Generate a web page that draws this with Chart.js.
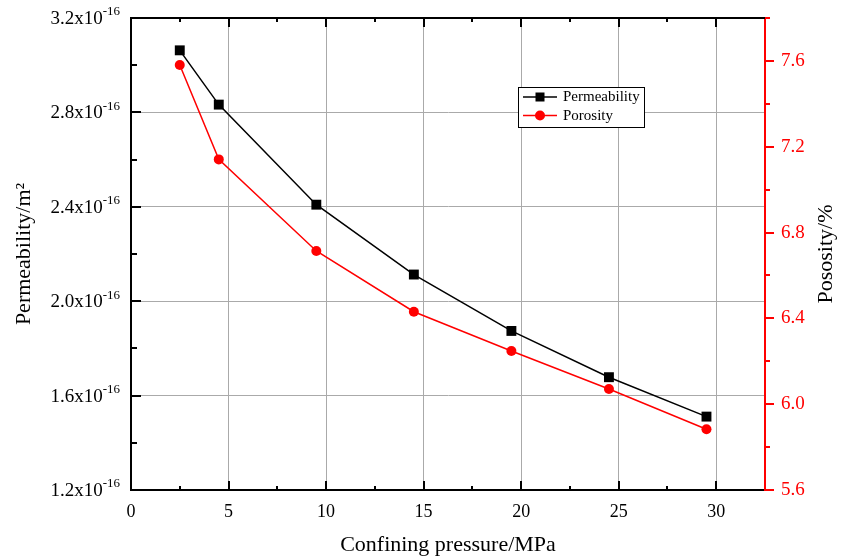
<!DOCTYPE html>
<html><head><meta charset="utf-8">
<script src="https://cdn.jsdelivr.net/npm/chart.js@4/dist/chart.umd.min.js"></script>
<style>html,body{margin:0;padding:0;background:#fff}#wrap{width:847px;height:558px}</style>
</head><body><div id="wrap"><canvas id="c" width="847" height="558"></canvas></div>
<script>
// ---- data ----
const pressure = [2.5, 4.5, 9.5, 14.5, 19.5, 24.5, 29.5];           // MPa
const permeability = [3.063, 2.833, 2.409, 2.113, 1.874, 1.678, 1.511]; // x 1e-16 m^2
const porosity = [7.581, 7.141, 6.714, 6.431, 6.248, 6.071, 5.883];   // %
const seriesNames = ['Permeability', 'Porosity'];
const permExponent = '-16';
const xTitle = 'Confining pressure/MPa';
const yLeftTitle = 'Permeability/m\u00B2';
const yRightTitle = 'Pososity/%';

const FONT = "'Liberation Serif','Times New Roman',serif";
const RED = '#ff0000';

function isMult(v, m) { return Math.abs(Math.round(v / m) * m - v) < 1e-6; }
function noPad(s) { s.paddingTop = 0; s.paddingBottom = 0; s.paddingLeft = 0; s.paddingRight = 0; }

const decor = {
  id: 'decor',
  afterDraw(chart) {
    const ctx = chart.ctx, a = chart.chartArea;
    const xs = chart.scales.x, yl = chart.scales.yL, yr = chart.scales.yR;
    ctx.save();
    // top border
    ctx.strokeStyle = '#000'; ctx.lineWidth = 2;
    ctx.beginPath(); ctx.moveTo(a.left - 1, a.top); ctx.lineTo(a.right, a.top); ctx.stroke();
    // x ticks (bottom & top, inward)
    ctx.lineWidth = 2;
    xs.ticks.forEach(t => {
      const v = t.value; if (v <= 0 || v > 31) return;
      const p = Math.round(xs.getPixelForValue(v));
      const len = isMult(v, 5) ? 9 : 4;
      ctx.beginPath(); ctx.moveTo(p, a.bottom); ctx.lineTo(p, a.bottom - len); ctx.stroke();
      ctx.beginPath(); ctx.moveTo(p, a.top); ctx.lineTo(p, a.top + len); ctx.stroke();
    });
    // left ticks inward
    yl.ticks.forEach(t => {
      const v = t.value;
      const p = Math.round(yl.getPixelForValue(v));
      const len = isMult(v, 0.4) ? 10 : 6;
      ctx.beginPath(); ctx.moveTo(a.left, p); ctx.lineTo(a.left + len, p); ctx.stroke();
    });
    // right ticks outward (red)
    ctx.strokeStyle = RED;
    yr.ticks.forEach(t => {
      const v = t.value;
      const p = Math.round(yr.getPixelForValue(v));
      const len = isMult(v, 0.4) ? 9 : 5;
      ctx.beginPath(); ctx.moveTo(a.right, p); ctx.lineTo(a.right + len, p); ctx.stroke();
    });
    // left tick labels with superscript
    ctx.fillStyle = '#000';
    yl.ticks.forEach(t => {
      const v = t.value; if (!isMult(v, 0.4)) return;
      const p = yl.getPixelForValue(v);
      const right = 120;
      ctx.font = '13px ' + FONT;
      const sw = ctx.measureText(permExponent).width;
      ctx.textAlign = 'left'; ctx.textBaseline = 'middle';
      ctx.fillText(permExponent, right - sw, p - 6);
      ctx.font = '19px ' + FONT;
      const main = v.toFixed(1) + 'x10';
      const mw = ctx.measureText(main).width;
      ctx.fillText(main, right - sw - mw, p + 1);
    });
    // titles
    ctx.fillStyle = '#000';
    ctx.font = '22px ' + FONT;
    ctx.textAlign = 'center'; ctx.textBaseline = 'middle';
    ctx.fillText(xTitle, (a.left + a.right) / 2, 545);
    ctx.save(); ctx.translate(24, (a.top + a.bottom) / 2); ctx.rotate(-Math.PI / 2);
    ctx.fillText(yLeftTitle, 0, 0); ctx.restore();
    ctx.save(); ctx.translate(826, (a.top + a.bottom) / 2); ctx.rotate(-Math.PI / 2);
    ctx.fillText(yRightTitle, 0, 0); ctx.restore();
    // legend
    const lx = 518, ly = 87, lw = 126, lh = 40;
    ctx.fillStyle = '#fff'; ctx.fillRect(lx, ly, lw, lh);
    ctx.strokeStyle = '#000'; ctx.lineWidth = 1;
    ctx.strokeRect(lx + 0.5, ly + 0.5, lw, lh);
    chart.data.datasets.forEach((ds, i) => {
      const cy = ly + 10 + i * 18.5;
      ctx.strokeStyle = ds.borderColor; ctx.lineWidth = 1.5;
      ctx.beginPath(); ctx.moveTo(lx + 5, cy); ctx.lineTo(lx + 39, cy); ctx.stroke();
      ctx.fillStyle = ds.pointBackgroundColor;
      if (ds.pointStyle === 'rect') { ctx.fillRect(lx + 22 - 4.5, cy - 4.5, 9, 9); }
      else { ctx.beginPath(); ctx.arc(lx + 22, cy, 5, 0, Math.PI * 2); ctx.fill(); }
      ctx.fillStyle = '#000'; ctx.font = '15px ' + FONT;
      ctx.textAlign = 'left'; ctx.textBaseline = 'middle';
      ctx.fillText(ds.label, lx + 45, cy + 0.5);
    });
    ctx.restore();
  }
};

new Chart(document.getElementById('c'), {
  type: 'line',
  data: {
    datasets: [
      {
        label: seriesNames[0], yAxisID: 'yL',
        data: pressure.map((x, i) => ({ x, y: permeability[i] })),
        borderColor: '#000', backgroundColor: '#000', borderWidth: 1.5,
        pointStyle: 'rect', pointRadius: 7, pointBackgroundColor: '#000', pointBorderColor: '#000', pointBorderWidth: 0
      },
      {
        label: seriesNames[1], yAxisID: 'yR',
        data: pressure.map((x, i) => ({ x, y: porosity[i] })),
        borderColor: RED, backgroundColor: RED, borderWidth: 1.5,
        pointStyle: 'circle', pointRadius: 5, pointBackgroundColor: RED, pointBorderColor: RED, pointBorderWidth: 0
      }
    ]
  },
  options: {
    responsive: false, animation: false,
    layout: { autoPadding: false, padding: { top: 18, left: 0, right: 0, bottom: 0 } },
    plugins: { legend: { display: false }, tooltip: { enabled: false } },
    scales: {
      x: {
        type: 'linear', position: 'bottom', min: 0, max: 32.5,
        afterFit(s) { s.height = 68; noPad(s); },
        ticks: {
          stepSize: 2.5, autoSkip: false, maxRotation: 0, padding: 11,
          color: '#000', font: { family: FONT, size: 18 },
          callback: v => isMult(v, 5) ? String(v) : ''
        },
        grid: {
          drawTicks: false,
          color: c => (c.tick && c.tick.value > 0 && c.tick.value <= 30 && isMult(c.tick.value, 5)) ? '#aaaaaa' : 'rgba(0,0,0,0)',
          lineWidth: 1
        },
        border: { color: '#000', width: 2 }
      },
      yL: {
        type: 'linear', position: 'left', min: 1.2, max: 3.2,
        afterFit(s) { s.width = 131; noPad(s); },
        ticks: { stepSize: 0.2, color: 'rgba(0,0,0,0)', font: { family: FONT, size: 18 } },
        grid: {
          drawTicks: false,
          color: c => (c.tick && c.tick.value > 1.3 && c.tick.value < 3.1 && isMult(c.tick.value, 0.4)) ? '#aaaaaa' : 'rgba(0,0,0,0)',
          lineWidth: 1
        },
        border: { color: '#000', width: 2 }
      },
      yR: {
        type: 'linear', position: 'right', min: 5.6, max: 7.8,
        afterFit(s) { s.width = 82; noPad(s); },
        ticks: {
          stepSize: 0.2, padding: 16, color: RED, font: { family: FONT, size: 19 },
          callback: v => isMult(v, 0.4) ? v.toFixed(1) : ''
        },
        grid: { drawOnChartArea: false, drawTicks: false },
        border: { color: RED, width: 2 }
      }
    }
  },
  plugins: [decor]
});
</script>
</body></html>
